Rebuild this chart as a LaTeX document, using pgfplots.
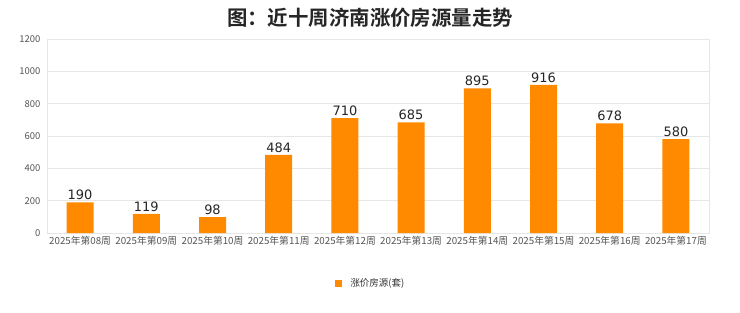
\documentclass[border=0pt]{standalone}
\usepackage{pgfplots}
\pgfplotsset{compat=1.18}
\usepackage{fontspec}
\setmainfont{DejaVu Sans}
\newfontfamily\cjk{Noto Sans CJK SC}
\newfontfamily\cjkb{Noto Sans CJK SC Bold}
\definecolor{barc}{HTML}{FF8A00}
\definecolor{gridc}{HTML}{E6E6E6}
\definecolor{tickc}{HTML}{555555}
\begin{document}
\begin{tikzpicture}[x=1bp,y=1bp]
\useasboundingbox (0,0) rectangle (740,312);
\fill[white] (0,0) rectangle (740,312);
\begin{axis}[
  at={(47bp,79bp)}, anchor=south west,
  scale only axis, width=662bp, height=194bp,
  xmin=-0.5, xmax=9.5, ymin=0, ymax=1200,
  ytick={0,200,400,600,800,1000,1200},
  /pgf/number format/set thousands separator={},
  /pgf/number format/assume math mode=true,
  xtick=data,
  xticklabels={2025年第08周,2025年第09周,2025年第10周,2025年第11周,2025年第12周,2025年第13周,2025年第14周,2025年第15周,2025年第16周,2025年第17周},
  ymajorgrids, grid style={gridc, line width=0.8pt},
  axis line style={gridc, line width=0.8pt},
  major tick length=0pt,
  xticklabel style={font=\cjk\fontsize{9.8}{11}\selectfont, text=tickc, yshift=0bp},
  yticklabel style={font=\cjk\fontsize{9.5}{11}\selectfont, text=tickc, xshift=-3bp},
  nodes near coords,
  nodes near coords style={font=\fontsize{13}{14}\selectfont, text=black!85, yshift=-1bp},
  clip=false,
]
\addplot[ybar, bar width=27bp, fill=barc, draw=none] coordinates {
(0,190) (1,119) (2,98) (3,484) (4,710) (5,685) (6,895) (7,916) (8,678) (9,580)};
\end{axis}
\node[font=\cjkb\fontsize{20.5}{22}\selectfont, text=black!85] at (370,294) {图：近十周济南涨价房源量走势};
\fill[barc] (334.5,25.5) rectangle +(7,7);
\node[anchor=west, font=\cjk\fontsize{9.5}{10}\selectfont, text=black!80] at (347,29) {涨价房源(套)};
\end{tikzpicture}
\end{document}
